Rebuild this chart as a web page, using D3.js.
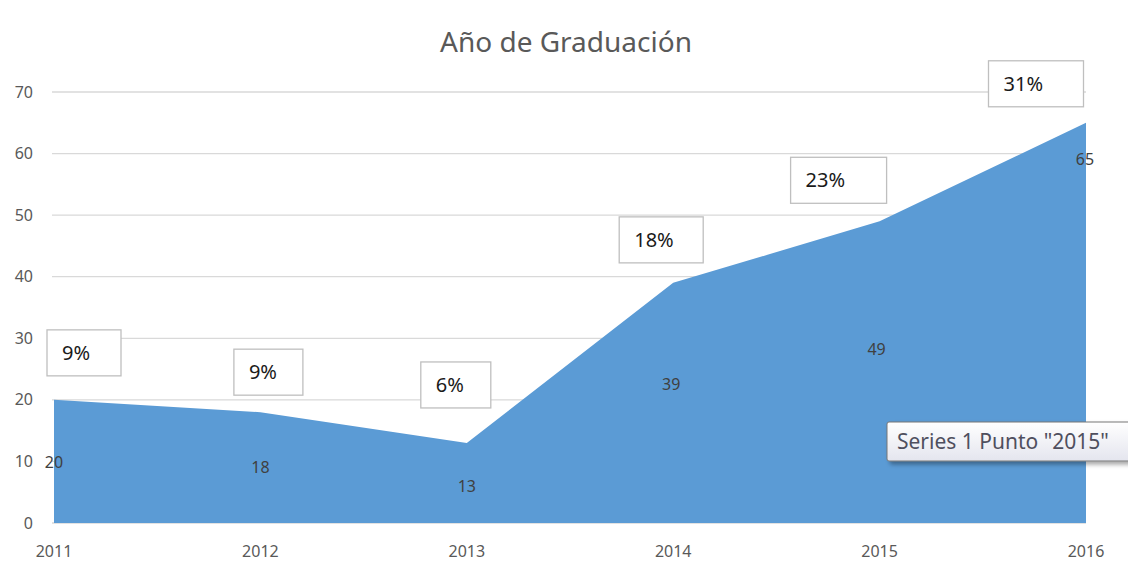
<!DOCTYPE html>
<html>
<head>
<meta charset="utf-8">
<script src="https://cdn.jsdelivr.net/npm/d3@7"></script>
<style>
  body { margin: 0; background: #fff; }
  svg { display: block; font-family: "Noto Sans", "Open Sans", sans-serif; }
</style>
</head>
<body>
<div id="chart"></div>
<script>
const years = ["2011", "2012", "2013", "2014", "2015", "2016"];
const counts = [20, 18, 13, 39, 49, 65];
const shares = ["9%", "9%", "6%", "18%", "23%", "31%"];
const yTicks = [0, 10, 20, 30, 40, 50, 60, 70];

// label placement relative to each point (pixels)
const shareOffsets = [[30, -47], [8, -40], [-11, -58], [-12, -43], [-41, -41], [-50, -39]];
const countOffsets = [[0, 63], [0, 55], [0, 43], [-2, 102], [-3, 128], [-1, 37]];
const shareBoxW = [74, 69, 70, 84, 96, 95];

const width = 1128, height = 581;

const svg = d3.select("#chart").append("svg")
  .attr("width", width)
  .attr("height", height);

const x = d3.scalePoint().domain(years).range([54, 1086]);
const y = d3.scaleLinear().domain([0, 70]).range([523, 92]);

// gridlines
svg.append("g")
  .selectAll("line")
  .data(yTicks)
  .enter().append("line")
  .attr("x1", 52)
  .attr("x2", 1086)
  .attr("y1", d => y(d))
  .attr("y2", d => y(d))
  .attr("stroke", "#d9d9d9")
  .attr("stroke-width", 1.3);

// y tick labels
svg.append("g")
  .selectAll("text")
  .data(yTicks)
  .enter().append("text")
  .attr("x", 33)
  .attr("y", d => y(d))
  .attr("dy", "0.35em")
  .attr("text-anchor", "end")
  .attr("fill", "#595959")
  .style("font-size", "16px")
  .text(d => d);

// x tick labels
svg.append("g")
  .selectAll("text")
  .data(years)
  .enter().append("text")
  .attr("x", d => x(d))
  .attr("y", 557)
  .attr("text-anchor", "middle")
  .attr("fill", "#595959")
  .style("font-size", "16px")
  .text(d => d);

// the area
const area = d3.area()
  .x((d, i) => x(years[i]))
  .y0(y(0))
  .y1(d => y(d));

svg.append("path")
  .datum(counts)
  .attr("d", area)
  .attr("fill", "#5b9bd5");

// count labels
svg.append("g")
  .selectAll("text")
  .data(counts)
  .enter().append("text")
  .attr("x", (d, i) => x(years[i]) + countOffsets[i][0])
  .attr("y", (d, i) => y(d) + countOffsets[i][1])
  .attr("dy", "0.35em")
  .attr("text-anchor", "middle")
  .attr("fill", "#404040")
  .style("font-size", "16px")
  .text(d => d);

// share boxes
const box = svg.append("g")
  .selectAll("g")
  .data(shares)
  .enter().append("g")
  .attr("transform", (d, i) =>
    `translate(${x(years[i]) + shareOffsets[i][0]},${y(counts[i]) + shareOffsets[i][1]})`);

box.append("rect")
  .attr("x", (d, i) => -shareBoxW[i] / 2)
  .attr("y", -23)
  .attr("width", (d, i) => shareBoxW[i])
  .attr("height", 46)
  .attr("fill", "#fff")
  .attr("stroke", "#bfbfbf")
  .attr("stroke-width", 1.3);

box.append("text")
  .attr("x", (d, i) => -shareBoxW[i] / 2 + 15)
  .attr("dy", "0.35em")
  .attr("fill", "#1a1a1a")
  .style("font-size", "20px")
  .text(d => d);

// title
svg.append("text")
  .attr("x", 566)
  .attr("y", 52)
  .attr("text-anchor", "middle")
  .attr("fill", "#595959")
  .style("font-size", "28px")
  .text("Año de Graduación");

// tooltip
const defs = svg.append("defs");
const grad = defs.append("linearGradient")
  .attr("id", "tipGrad")
  .attr("x1", 0).attr("y1", 0).attr("x2", 0).attr("y2", 1);
grad.append("stop").attr("offset", "0%").attr("stop-color", "#ffffff");
grad.append("stop").attr("offset", "100%").attr("stop-color", "#e4e5ee");
const shadow = defs.append("filter").attr("id", "tipShadow")
  .attr("x", "-10%").attr("y", "-20%").attr("width", "130%").attr("height", "160%");
shadow.append("feDropShadow")
  .attr("dx", 3).attr("dy", 3).attr("stdDeviation", 2)
  .attr("flood-color", "#000").attr("flood-opacity", 0.35);

const tip = svg.append("g").attr("transform", "translate(887,422)");
tip.append("rect")
  .attr("width", 260)
  .attr("height", 39)
  .attr("rx", 2)
  .attr("fill", "url(#tipGrad)")
  .attr("stroke", "#767676")
  .attr("filter", "url(#tipShadow)");
tip.append("text")
  .attr("x", 10)
  .attr("y", 27)
  .attr("fill", "#4f4f5e")
  .style("font-size", "21px")
  .text('Series 1 Punto "2015"');
</script>
</body>
</html>
